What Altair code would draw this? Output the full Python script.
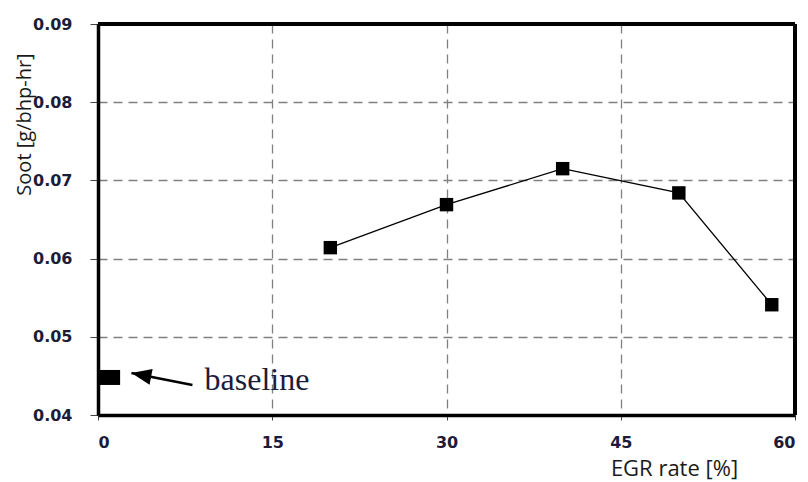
import altair as alt
import pandas as pd

# EGR sweep
egr_rate = [20, 30, 40, 50, 58]
soot = [0.0614, 0.0669, 0.0715, 0.0684, 0.0541]

# baseline point
baseline_x = [1]
baseline_soot = [0.0448]

x_ticks = [0, 15, 30, 45, 60]
y_ticks = [0.04, 0.05, 0.06, 0.07, 0.08, 0.09]

# annotation (data units)
arrow_tip = (2.88, 0.04537)
arrow_tail = (8.13, 0.04384)
label_pos = (9.17, 0.0432)
label_text = "baseline"

df = pd.DataFrame({"egr": egr_rate, "soot": soot})
df_base = pd.DataFrame({"egr": baseline_x, "soot": baseline_soot})
df_arrow = pd.DataFrame({"egr": [arrow_tail[0], arrow_tip[0]],
                         "soot": [arrow_tail[1], arrow_tip[1]], "o": [0, 1]})
df_tip = pd.DataFrame({"egr": [arrow_tip[0]], "soot": [arrow_tip[1]]})
df_lab = pd.DataFrame({"egr": [label_pos[0]], "soot": [label_pos[1]], "t": [label_text]})

label_color = "#1c1c3a"

xscale = alt.Scale(domain=[0, 60], nice=False, zero=False)
yscale = alt.Scale(domain=[0.04, 0.09], nice=False, zero=False)

xaxis = alt.Axis(
    values=x_ticks, format="d", title="EGR rate [%]",
    grid=True, gridColor="#808080", gridDash=[9, 6], gridWidth=1.3,
    domainColor="black", domainWidth=3.5,
    tickColor="#444", tickSize=5, tickWidth=1,
    labelFont="DejaVu Sans", labelFontSize=16, labelFontWeight="bold",
    labelColor=label_color, labelPadding=14,
    titleFont="Open Sans", titleFontSize=22, titleFontWeight="normal",
    titleColor="#1a1a1a", titleX=576, titleY=53,
    titleAlign="center", titleBaseline="middle",
)
yaxis = alt.Axis(
    values=y_ticks, format=".2f", title="Soot [g/bhp-hr]",
    grid=True, gridColor="#808080", gridDash=[9, 6], gridWidth=1.3,
    domainColor="black", domainWidth=3.5,
    tickColor="#444", tickSize=8, tickWidth=1,
    labelFont="DejaVu Sans", labelFontSize=16, labelFontWeight="bold",
    labelColor=label_color, labelPadding=18,
    titleFont="Open Sans", titleFontSize=20, titleFontWeight="normal",
    titleColor="#1a1a1a", titleX=-74, titleY=100, titleAngle=-90,
    titleAlign="center", titleBaseline="middle",
)

base = alt.Chart(df)

line = base.mark_line(color="black", strokeWidth=1.3).encode(
    x=alt.X("egr:Q", scale=xscale, axis=xaxis),
    y=alt.Y("soot:Q", scale=yscale, axis=yaxis),
)
pts = base.mark_point(shape="square", filled=True, color="black", opacity=1, size=180).encode(
    x=alt.X("egr:Q", scale=xscale), y=alt.Y("soot:Q", scale=yscale)
)
bpt = alt.Chart(df_base).mark_point(
    shape="M-1.4,-1H1.4V1H-1.4Z", filled=True, color="black", opacity=1, size=225
).encode(x=alt.X("egr:Q", scale=xscale), y=alt.Y("soot:Q", scale=yscale))

arrow_line = alt.Chart(df_arrow).mark_line(color="black", strokeWidth=2.5).encode(
    x=alt.X("egr:Q", scale=xscale), y=alt.Y("soot:Q", scale=yscale), order="o:O"
)
arrow_head = alt.Chart(df_tip).mark_point(
    shape="M0,0L2,-0.8L2,0.8Z", filled=True, color="black", opacity=1, size=400, angle=11
).encode(x=alt.X("egr:Q", scale=xscale), y=alt.Y("soot:Q", scale=yscale))

label = alt.Chart(df_lab).mark_text(
    font="Liberation Serif", fontSize=32, align="left", baseline="alphabetic",
    color=label_color
).encode(x=alt.X("egr:Q", scale=xscale), y=alt.Y("soot:Q", scale=yscale), text="t:N")

top_border = alt.Chart(df).mark_rule(color="black", strokeWidth=4).encode(
    y=alt.datum(0.09, scale=yscale)
)
right_border = alt.Chart(df).mark_rule(color="black", strokeWidth=4).encode(
    x=alt.datum(60, scale=xscale)
)

chart = alt.layer(line, pts, bpt, arrow_line, arrow_head, label, top_border, right_border).properties(
    width=697, height=391,
    autosize=alt.AutoSizeParams(type="none"),
    padding={"left": 98, "top": 24, "right": 13, "bottom": 67},
    background="white",
).configure_view(stroke=None)

chart.save("out.html", embed_options={"renderer": "svg", "actions": False})
